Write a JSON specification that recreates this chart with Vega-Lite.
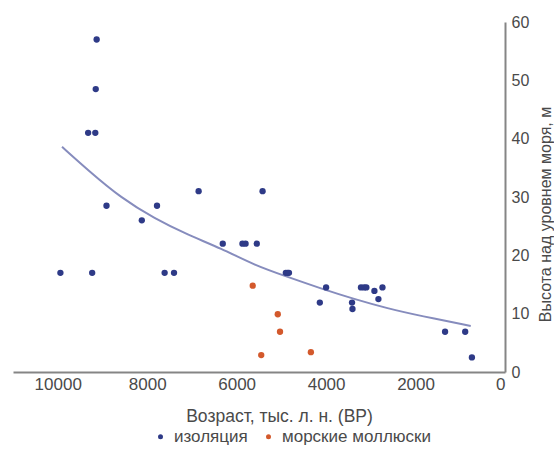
{
  "$schema": "https://vega.github.io/schema/vega-lite/v6.json",
  "autosize": "none",
  "width": 492,
  "height": 350,
  "padding": {"left": 13, "top": 22, "right": 49, "bottom": 82},
  "background": "white",
  "config": {
    "view": {"stroke": null},
    "font": "Liberation Sans",
    "axis": {"labelColor": "#4a4a4a", "titleColor": "#4a4a4a", "labelFont": "Liberation Sans", "titleFont": "Liberation Sans", "titleFontWeight": "normal", "domainColor": "#858585", "domainWidth": 2, "ticks": false, "grid": false},
    "legend": {"labelColor": "#4a4a4a", "labelFont": "Liberation Sans"}
  },
  "datasets": {
    "points": [
      {"age": 9130, "h": 57, "type": "изоляция"},
      {"age": 9150, "h": 48.5, "type": "изоляция"},
      {"age": 9320, "h": 41, "type": "изоляция"},
      {"age": 9160, "h": 41, "type": "изоляция"},
      {"age": 6850, "h": 31, "type": "изоляция"},
      {"age": 5420, "h": 31, "type": "изоляция"},
      {"age": 8910, "h": 28.5, "type": "изоляция"},
      {"age": 7780, "h": 28.5, "type": "изоляция"},
      {"age": 8120, "h": 26, "type": "изоляция"},
      {"age": 6310, "h": 22, "type": "изоляция"},
      {"age": 5870, "h": 22, "type": "изоляция"},
      {"age": 5800, "h": 22, "type": "изоляция"},
      {"age": 5550, "h": 22, "type": "изоляция"},
      {"age": 9940, "h": 17, "type": "изоляция"},
      {"age": 9230, "h": 17, "type": "изоляция"},
      {"age": 7610, "h": 17, "type": "изоляция"},
      {"age": 7400, "h": 17, "type": "изоляция"},
      {"age": 4900, "h": 17, "type": "изоляция"},
      {"age": 4860, "h": 17, "type": "изоляция"},
      {"age": 4830, "h": 17, "type": "изоляция"},
      {"age": 4000, "h": 14.5, "type": "изоляция"},
      {"age": 3220, "h": 14.5, "type": "изоляция"},
      {"age": 3150, "h": 14.5, "type": "изоляция"},
      {"age": 3100, "h": 14.5, "type": "изоляция"},
      {"age": 2920, "h": 13.9, "type": "изоляция"},
      {"age": 2740, "h": 14.5, "type": "изоляция"},
      {"age": 2830, "h": 12.5, "type": "изоляция"},
      {"age": 4140, "h": 11.9, "type": "изоляция"},
      {"age": 3420, "h": 11.9, "type": "изоляция"},
      {"age": 3410, "h": 10.8, "type": "изоляция"},
      {"age": 1340, "h": 6.9, "type": "изоляция"},
      {"age": 890, "h": 6.9, "type": "изоляция"},
      {"age": 740, "h": 2.5, "type": "изоляция"},
      {"age": 5640, "h": 14.8, "type": "морские моллюски"},
      {"age": 5080, "h": 9.9, "type": "морские моллюски"},
      {"age": 5030, "h": 6.9, "type": "морские моллюски"},
      {"age": 5450, "h": 2.9, "type": "морские моллюски"},
      {"age": 4340, "h": 3.4, "type": "морские моллюски"}
    ],
    "trend": [
      {"age": 9904, "h": 38.6},
      {"age": 9324, "h": 34.6},
      {"age": 8578, "h": 29.8},
      {"age": 7835, "h": 26.3},
      {"age": 7091, "h": 23.5},
      {"age": 6346, "h": 21.2},
      {"age": 5603, "h": 18.3},
      {"age": 4859, "h": 16.3},
      {"age": 4114, "h": 14.3},
      {"age": 3371, "h": 12.5},
      {"age": 2627, "h": 10.9},
      {"age": 1882, "h": 9.6},
      {"age": 766, "h": 7.9}
    ]
  },
  "layer": [
    {
      "data": {"name": "trend"},
      "mark": {"type": "line", "color": "#868cbd", "strokeWidth": 2, "interpolate": "basis"},
      "encoding": {
        "x": {"field": "age", "type": "quantitative"},
        "y": {"field": "h", "type": "quantitative"}
      }
    },
    {
      "data": {"name": "points"},
      "mark": {"type": "circle", "size": 40, "opacity": 1},
      "encoding": {
        "x": {
          "field": "age", "type": "quantitative",
          "scale": {"domain": [0, 11000], "reverse": true, "nice": false},
          "axis": {"orient": "bottom", "values": [0, 2000, 4000, 6000, 8000, 10000], "format": "d", "labelFontSize": 17, "labelPadding": 4, "title": "Возраст, тыс. л. н. (BP)", "titleFontSize": 17.5, "titleX": 266, "titleY": 44, "titleAlign": "center", "titleBaseline": "middle"}
        },
        "y": {
          "field": "h", "type": "quantitative",
          "scale": {"domain": [0, 60], "nice": false},
          "axis": {"orient": "right", "values": [0, 10, 20, 30, 40, 50, 60], "labelFontSize": 16, "labelPadding": 6, "title": "Высота над уровнем моря, м", "titleFontSize": 16, "titleAngle": 270, "titleX": 40, "titleY": 192, "titleAlign": "center", "titleBaseline": "middle"}
        },
        "color": {
          "field": "type", "type": "nominal",
          "scale": {"domain": ["изоляция", "морские моллюски"], "range": ["#2e3a87", "#d3592c"]},
          "legend": {"title": null, "orient": "none", "direction": "horizontal", "legendX": 139, "legendY": 406, "symbolType": "circle", "symbolSize": 25, "labelFontSize": 17, "columnPadding": 12, "labelOffset": 5}
        }
      }
    }
  ]
}
